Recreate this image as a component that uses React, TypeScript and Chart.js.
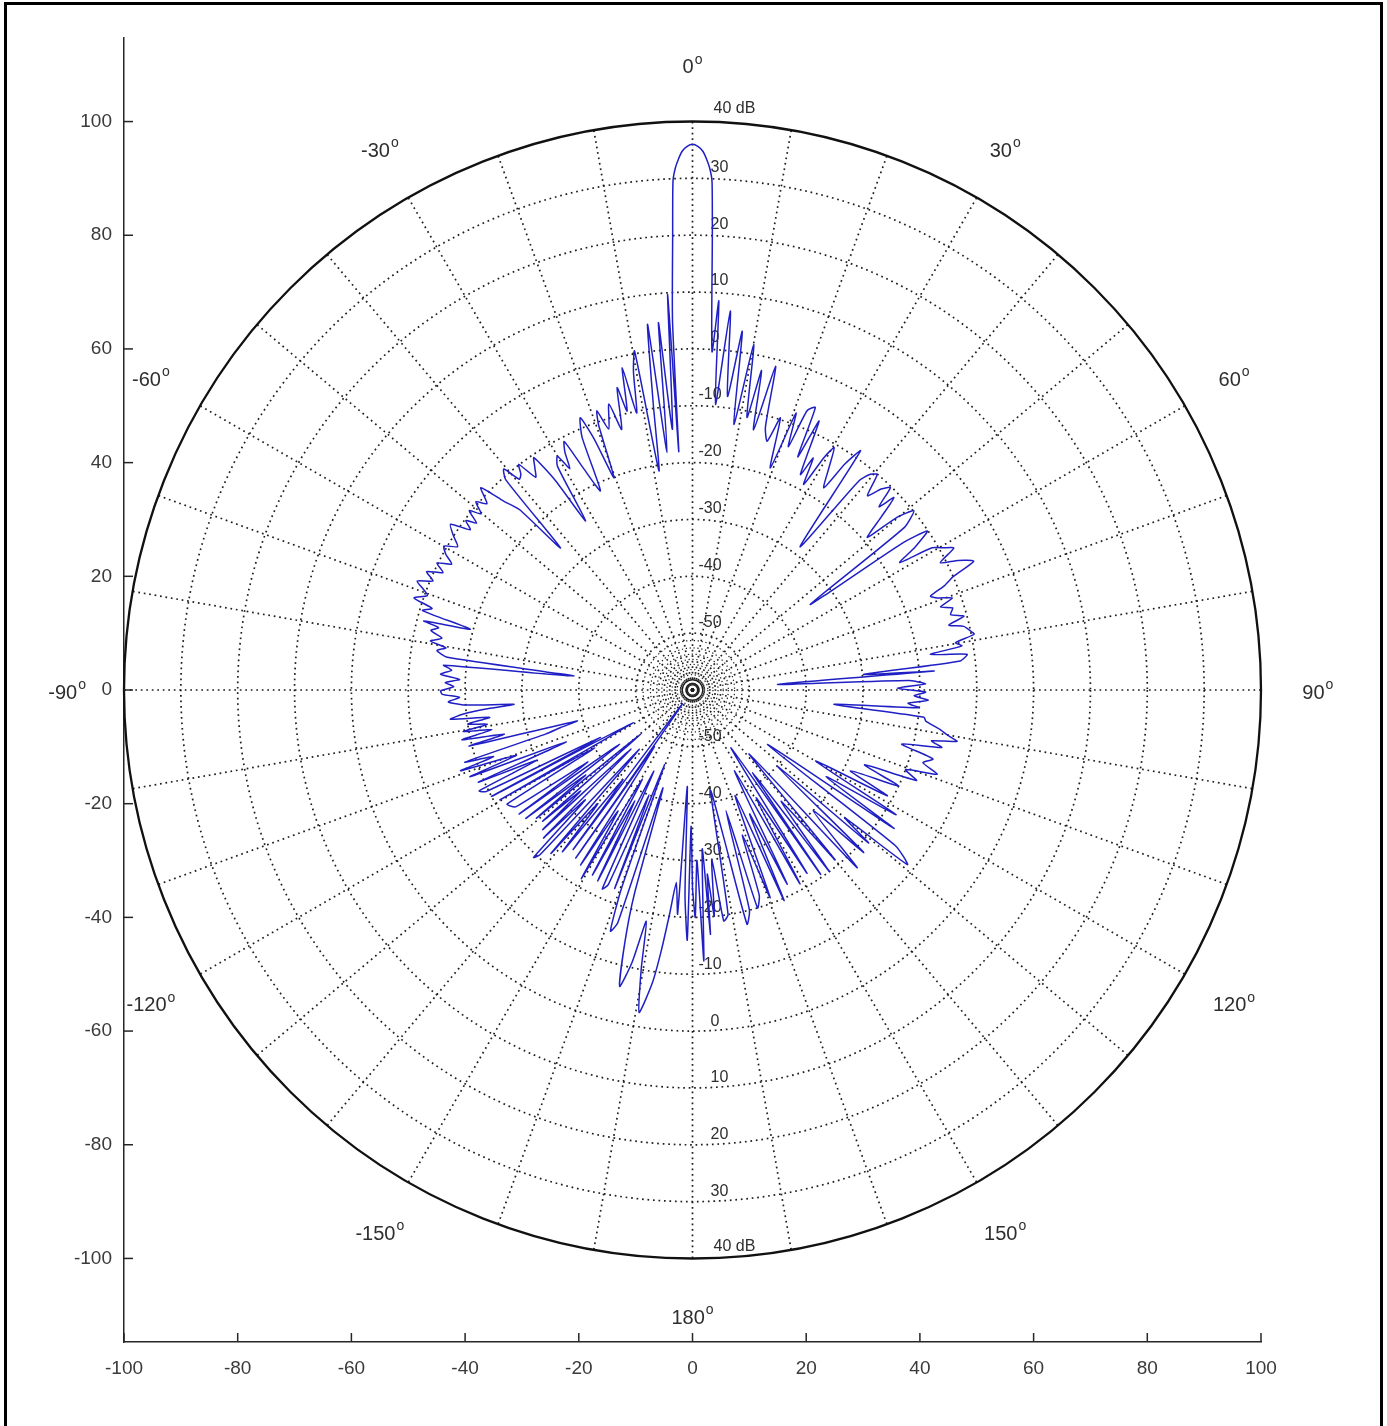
import { useEffect, useRef } from "react";
import { Chart, registerables } from "chart.js";
Chart.register(...registerables);

// Pattern: angle (deg, clockwise from top) and gain (dB)
const angleDeg = [
  -180, -179.4, -178.8, -177.9, -176.9, -176.2, -175.2, -174.2, -173.2, -172.2, -170.6, -169.6, -168.7, -167.5, -166.2, -165, -164.1, -163.2, -162.2, -161.2,
  -160.3, -159.4, -158.6, -157.6, -156.6, -155.6, -154.6, -153.6, -152.6, -151.6, -150.6, -149.5, -148.4, -147.4, -146.3, -145.2, -144.2, -143.2, -142.2, -141.2,
  -140.2, -139.1, -138, -137.2, -136.5, -135.7, -134.8, -133.9, -133, -132.1, -131.2, -130.3, -129.4, -128.5, -127.6, -126.6, -125.6, -124.6, -123.5, -122.5,
  -121.6, -120.6, -119.7, -118.8, -117.9, -117.2, -116.2, -115.3, -114.3, -113.3, -112.3, -111.3, -110.3, -109.2, -108.5, -107.6, -106.7, -105.9, -105, -104.1,
  -103.2, -102.2, -101.2, -100.3, -99.5, -98.6, -97.7, -96.9, -96, -95.2, -94.6, -93.8, -92.8, -91.8, -91, -90.2,
  -89.2, -88.3, -87.4, -86.4, -85.3, -84.3, -83.3, -82.4, -81.2, -80.3, -79.4, -78.3, -77.2, -76.2, -75.6, -74.7, -73.6, -72.6, -71.7, -70.4,
  -69.5, -68.4, -67.2, -66, -64.8, -63.6, -62.4, -61.2, -59.9, -58.6, -57.2, -55.6, -54.2, -53.2, -52.3, -51.2, -50.2, -49, -47.8, -46.3,
  -45, -43.8, -42.9, -41.6, -40.5, -39.4, -38.5, -37.6, -36.4, -35.3, -34.3, -33.2, -32.3, -31.1, -30, -29, -28.2, -27.3, -26.2, -24.8,
  -23.6, -22.4, -21.4, -20.3, -19.5, -18.9, -17.8, -16.3, -15.2, -14, -13.2, -12.3, -11.4, -10.5, -9.7, -8.7, -7.8, -7, -6.1, -5.3,
  -4.4, -3.6, -3.3, -3.1, -2.5, -2.2, -1.9, -1.5, -1.1, -0.6, 0, 0.6, 1.1, 1.5, 1.9, 2.2, 2.5, 3.3, 3.87, 4.6,
  5.7, 6.8, 7.9, 8.85, 10.05, 11.3,
  12.2, 13.2, 14.4, 15.5, 16.7, 17.9, 19.3, 20.5, 21.5, 22.3, 23.5, 24.3, 25.2, 26.6, 27.5, 28.4, 29.5, 30.3, 31.5, 33,
  34, 35.1, 36.9, 38.5, 39.5, 40.6, 42, 43.2, 44.35, 45.5, 46.3, 47.5, 48.9, 49.8, 51, 52.5, 54, 55, 55.9, 57.3,
  58.4, 59.3, 60.5, 61.5, 62.8, 64, 65.4, 66.5, 67.5, 68.5, 69.4, 70.5, 71.5, 72.5, 73.7, 74.8, 75.8, 76.8, 78, 78.8,
  79.8, 80.7, 81.5, 82.6, 83.8, 84.8, 85.5, 86.2, 87.5, 88.5, 89.5, 90.5, 91.5, 92.5, 93.5, 94.5, 95.8, 96.7, 97.6, 99,
  100, 101, 102, 103, 104.5, 106, 107.5, 109, 110.5, 112, 113.5, 115, 117.1, 118.5, 120, 121.5, 123, 124.5, 126, 127.5,
  129.1, 130, 131, 132, 133.5, 135, 137.2, 138.5, 140, 141.5, 143, 144, 145.2, 146.4, 148, 149.5, 151, 152.5, 154, 155.3,
  156.5, 158, 159.5, 161, 162, 163.4, 164.5, 165.5, 166.9, 168, 169.8, 171, 172.3, 173.5, 174.5, 175.4, 175.8, 176.5, 177.6, 178.5,
  179.3, 180,
];
const gainDb = [
  -25, -36, -16, -24, -43, -20.5, -26, -20.6, -14, -8, -2.5, -10, -18.5, -11, -6.3, -14, -22.6, -42, -17, -15.2,
  -23, -46, -22.5, -40, -22.7, -21.6, -44.2, -22.5, -38, -23, -42, -21.5, -35, -23.5, -48, -24, -57, -25, -40, -23.5,
  -34, -22, -46, -20.5, -19.4, -33, -23.1, -45, -24, -33.5, -25, -48, -24.5, -36, -23, -44, -22.5, -37.7, -22.8, -22,
  -21.7, -40, -21, -48.1, -20, -41.8, -19.5, -18.5, -30, -19, -36, -18, -27, -16.8, -23.1, -18, -33, -35.9, -39, -19.5,
  -26, -18.5, -24, -19, -23.4, -20, -24, -17.1, -19.5, -24, -28.5, -20, -17, -19, -16, -15.7,
  -18, -16.5, -19, -15.6, -17.5, -16, -39, -16.5, -14.5, -16, -13.1, -15, -12.8, -14, -11.2, -19.5, -10.5, -12, -8.4, -10.5,
  -9.5, -7.9, -10.5, -8.8, -11.5, -9.8, -12.2, -10.5, -9.5, -11.6, -10, -8.4, -11.8, -10.2, -12, -9.6, -11.6, -9.5, -11.2, -8.5,
  -13, -16, -25.9, -10.5, -8.9, -12, -11.5, -9.9, -13.5, -12, -10.5, -16, -24.8, -14, -12.5, -15.5, -12.5, -10.8, -16.5, -21.4,
  -11.5, -8.2, -12.5, -20.2, -10.5, -8.1, -11.8, -7.6, -12.5, -5.2, -9.6, -2, -10.3, -3, 0.5, -21, -9, 4.8, -18, 4.9,
  -14, 9.7, -18, 5, 20, 29.5, 31.8, 33.5, 34.8, 35.6, 36, 35.6, 34.8, 33.5, 31.8, 29.5, 20, -0.4, 8.6, -9.6,
  7, -8, 3.7, -12.7, 1.7, -11.1,
  -2.5, -13, -1.2, -12, -14.3, -9.7, -18.6, -8, -14, -6.9, -5.8, -15, -7.7, -17.6, -14, -18.9, -13, -10.6, -14, -17.6,
  -12, -8.6, -28.5, -13, -10.8, -10.1, -14, -11.5, -10.2, -14, -11, -15, -19.2, -13, -9.9, -13, -34.4, -15, -10.1, -13.5,
  -17.2, -11, -9.2, -7.7, -11, -8, -5.6, -10, -12, -15, -14, -11.5, -14, -12, -12.7, -10.5, -13.5, -11, -10, -9.5,
  -13, -12, -17.7, -11.3, -12.6, -29.8, -17.4, -45, -22, -19, -24, -19, -21, -18.5, -22, -20, -35, -19, -18.6, -16,
  -14.5, -12.6, -17, -15, -22, -16, -17.5, -14.5, -20, -17.5, -27, -20, -28.8, -21, -35, -18, -32, -17, -43.7, -15,
  -11.3, -25, -19, -40, -18.5, -30, -17.4, -45, -21, -35, -20, -42, -20.5, -47.8, -22, -38, -21, -44, -22, -36,
  -19.6, -40, -21, -33, -22, -20, -38, -20, -17.7, -33, -42, -20, -19, -30, -20, -27.5, -16.9, -32, -12.3, -30,
  -20, -25,
];

const xTicks = [-100, -80, -60, -40, -20, 0, 20, 40, 60, 80, 100];
const yTicks = [-100, -80, -60, -40, -20, 0, 20, 40, 60, 80, 100];
const ringDb = [-50, -40, -30, -20, -10, 0, 10, 20, 30];
const ringLabels = ["-50", "-40", "-30", "-20", "-10", "0", "10", "20", "30"];
const outerDb = 40;
const outerLabel = "40 dB";
const dbOffset = 60; // radius = dB + 60
const innerRings = [0.9, 1.8, 2.7, 3.6, 4.5, 5.4, 6.3, 7.4, 8.7];
const spokeStepDeg = 10;
const angleLabels = [0, 30, 60, 90, 120, 150, 180, -150, -120, -90, -60, -30];
const angleLabelRadius = 110;

const FONT = '"Liberation Sans", Arial, Helvetica, sans-serif';

const polarGrid = {
  id: "polarGrid",
  beforeDatasetsDraw(chart: any) {
    const { ctx, scales } = chart;
    const xs = scales.x;
    const ys = scales.y;
    const cx = xs.getPixelForValue(0);
    const cy = ys.getPixelForValue(0);
    const unit = xs.getPixelForValue(1) - cx;
    const rOuter = (outerDb + dbOffset) * unit;
    ctx.save();
    // dotted rings
    ctx.strokeStyle = "#1e1e1e";
    ctx.lineWidth = 1.7;
    ctx.setLineDash([1.7, 3.8]);
    for (const d of ringDb) {
      const r = (d + dbOffset) * unit;
      ctx.beginPath();
      ctx.arc(cx, cy, r, 0, Math.PI * 2);
      ctx.stroke();
    }
    innerRings.forEach((ir, i) => {
      ctx.setLineDash(i < 2 ? [] : [1.3, 2.6]);
      ctx.lineWidth = i < 2 ? 1.3 : 1.2;
      ctx.beginPath();
      ctx.arc(cx, cy, ir * unit, 0, Math.PI * 2);
      ctx.stroke();
    });
    // spokes
    ctx.setLineDash([1.7, 3.8]);
    ctx.lineWidth = 1.7;
    for (let a = 0; a < 360; a += spokeStepDeg) {
      const t = (a * Math.PI) / 180;
      ctx.beginPath();
      ctx.moveTo(cx, cy);
      ctx.lineTo(cx + rOuter * Math.sin(t), cy - rOuter * Math.cos(t));
      ctx.stroke();
    }
    // outer circle
    ctx.setLineDash([]);
    ctx.strokeStyle = "#111";
    ctx.lineWidth = 2.3;
    ctx.beginPath();
    ctx.arc(cx, cy, rOuter, 0, Math.PI * 2);
    ctx.stroke();
    // dB labels (top and bottom)
    ctx.fillStyle = "#2e2e2e";
    ctx.font = `16px ${FONT}`;
    ctx.textAlign = "left";
    ctx.textBaseline = "middle";
    ringDb.forEach((d, i) => {
      const r = (d + dbOffset) * unit;
      const lx = d < 0 ? cx + 6 : cx + 18;
      ctx.fillText(ringLabels[i], lx, cy - r - 11);
      ctx.fillText(ringLabels[i], lx, cy + r - 10);
    });
    ctx.fillText(outerLabel, cx + 21, cy - rOuter - 13);
    ctx.fillText(outerLabel, cx + 21, cy + rOuter - 12);
    // angle labels
    const rl = angleLabelRadius * unit;
    for (const a of angleLabels) {
      const t = (a * Math.PI) / 180;
      const px = cx + rl * Math.sin(t);
      const py = cy - rl * Math.cos(t);
      const txt = String(a);
      ctx.font = `20px ${FONT}`;
      const w1 = ctx.measureText(txt).width;
      ctx.font = `14px ${FONT}`;
      const w2 = ctx.measureText("o").width;
      const x0 = px - (w1 + w2 + 1) / 2;
      ctx.font = `20px ${FONT}`;
      ctx.fillText(txt, x0, py + 3);
      ctx.font = `14px ${FONT}`;
      ctx.fillText("o", x0 + w1 + 1, py - 5);
    }
    ctx.restore();
  },
  afterDraw(chart: any) {
    const { ctx, scales, chartArea } = chart;
    const xs = scales.x;
    const ys = scales.y;
    ctx.save();
    ctx.strokeStyle = "#262626";
    ctx.lineWidth = 1.5;
    for (const v of yTicks) {
      const py = ys.getPixelForValue(v);
      ctx.beginPath();
      ctx.moveTo(chartArea.left, py);
      ctx.lineTo(chartArea.left + 9, py);
      ctx.stroke();
    }
    for (const v of xTicks) {
      const px = xs.getPixelForValue(v);
      ctx.beginPath();
      ctx.moveTo(px, chartArea.bottom);
      ctx.lineTo(px, chartArea.bottom - 9);
      ctx.stroke();
    }
    // outer frame of the figure
    ctx.strokeStyle = "#000";
    ctx.lineWidth = 3;
    ctx.strokeRect(5.5, 3.5, 1376, 1440);
    ctx.restore();
  },
};

export default function App() {
  const ref = useRef<HTMLCanvasElement | null>(null);
  useEffect(() => {
    if (!ref.current) return;
    const pts = angleDeg.map((a, i) => {
      const r = Math.max(gainDb[i] + dbOffset, 0);
      const t = (a * Math.PI) / 180;
      return { x: r * Math.sin(t), y: r * Math.cos(t) };
    });
    const tickFont = { family: FONT, size: 19 };
    const chart = new Chart(ref.current, {
      type: "scatter",
      data: {
        datasets: [
          {
            data: pts,
            showLine: true,
            borderColor: "#1f1fc4",
            backgroundColor: "#1f1fc4",
            borderWidth: 1.5,
            pointRadius: 0,
            tension: 0.2,
            fill: false,
          },
        ],
      },
      options: {
        animation: false,
        responsive: false,
        maintainAspectRatio: false,
        layout: { padding: { top: 38, right: 126, left: 0, bottom: 0 } },
        plugins: { legend: { display: false }, tooltip: { enabled: false } },
        scales: {
          x: {
            type: "linear",
            min: -100,
            max: 100,
            grid: { display: false, drawTicks: false },
            border: { display: true, color: "#262626", width: 1.5 },
            ticks: { padding: 15, font: tickFont, color: "#3a3a3a", maxRotation: 0, autoSkip: false },
            afterBuildTicks: (s: any) => {
              s.ticks = xTicks.map((v) => ({ value: v }));
            },
            afterFit: (s: any) => {
              s.height = 84;
            },
          },
          y: {
            type: "linear",
            min: -114.7,
            max: 114.7,
            grid: { display: false, drawTicks: false },
            border: { display: true, color: "#262626", width: 1.5 },
            ticks: { padding: 12, font: tickFont, color: "#3a3a3a", autoSkip: false },
            afterBuildTicks: (s: any) => {
              s.ticks = yTicks.map((v) => ({ value: v }));
            },
            afterFit: (s: any) => {
              s.width = 124;
            },
          },
        },
      },
      plugins: [polarGrid],
    } as any);
    return () => chart.destroy();
  }, []);
  return (
    <div style={{ position: "fixed", left: 0, top: 0, width: 1387, height: 1426, background: "#fff" }}>
      <canvas ref={ref} width={1387} height={1426} style={{ width: 1387, height: 1426, display: "block" }} />
    </div>
  );
}
